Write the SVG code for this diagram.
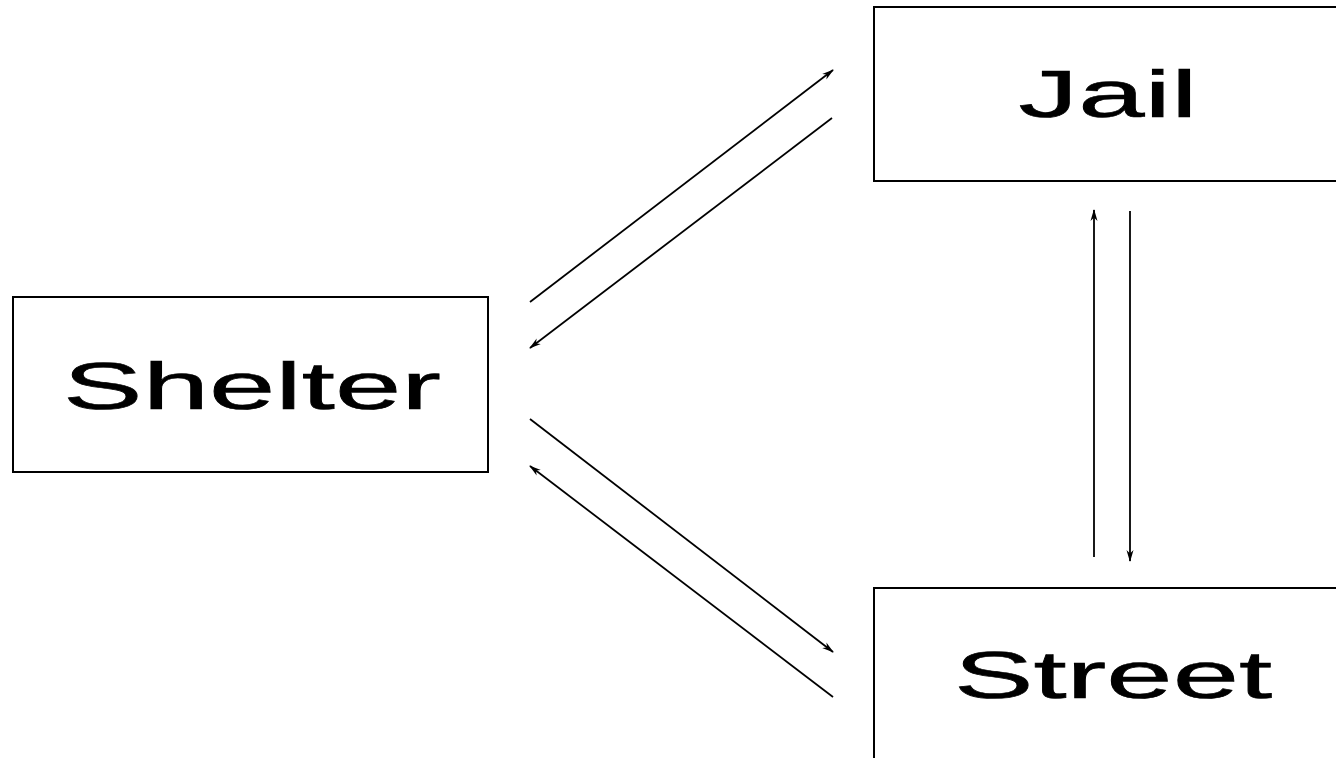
<svg xmlns="http://www.w3.org/2000/svg" width="1336" height="758" viewBox="0 0 1336 758">
<style>
.box{fill:#fff;stroke:#000;stroke-width:2}
.lbl{font-family:"Liberation Sans",Arial,sans-serif;font-size:67px;fill:#000;stroke:#000;stroke-width:0.6;text-anchor:middle}
.c{stroke:#000;stroke-width:1.8;fill:none;marker-end:url(#ah)}
</style>
<defs>
<marker id="ah" viewBox="0 0 12 8" refX="11" refY="4" markerWidth="12" markerHeight="8" markerUnits="userSpaceOnUse" orient="auto">
<path d="M0,0.5 L12,4 L0,7.5 L3.5,4 Z" fill="#000"/>
</marker>
</defs>
<rect width="1336" height="758" fill="#fff"/>
<g id="shelter">
<rect class="box" x="13" y="297" width="475" height="175"/>
<text class="lbl" transform="translate(252,409) scale(1.78,1)">Shelter</text>
</g>
<g id="jail">
<rect class="box" x="874" y="7" width="480" height="174"/>
<text class="lbl" transform="translate(1108,117) scale(1.78,1)">Jail</text>
</g>
<g id="street">
<rect class="box" x="874" y="588" width="480" height="190"/>
<text class="lbl" transform="translate(1113,698) scale(1.78,1)">Street</text>
</g>
<g id="connectors">
<line class="c" x1="530" y1="302" x2="833" y2="70"/>
<line class="c" x1="832" y1="118" x2="530" y2="348"/>
<line class="c" x1="530" y1="419" x2="833" y2="652"/>
<line class="c" x1="833" y1="697" x2="530" y2="466"/>
<line class="c" x1="1094" y1="557" x2="1094" y2="210"/>
<line class="c" x1="1130" y1="211" x2="1130" y2="561"/>
</g>
</svg>
